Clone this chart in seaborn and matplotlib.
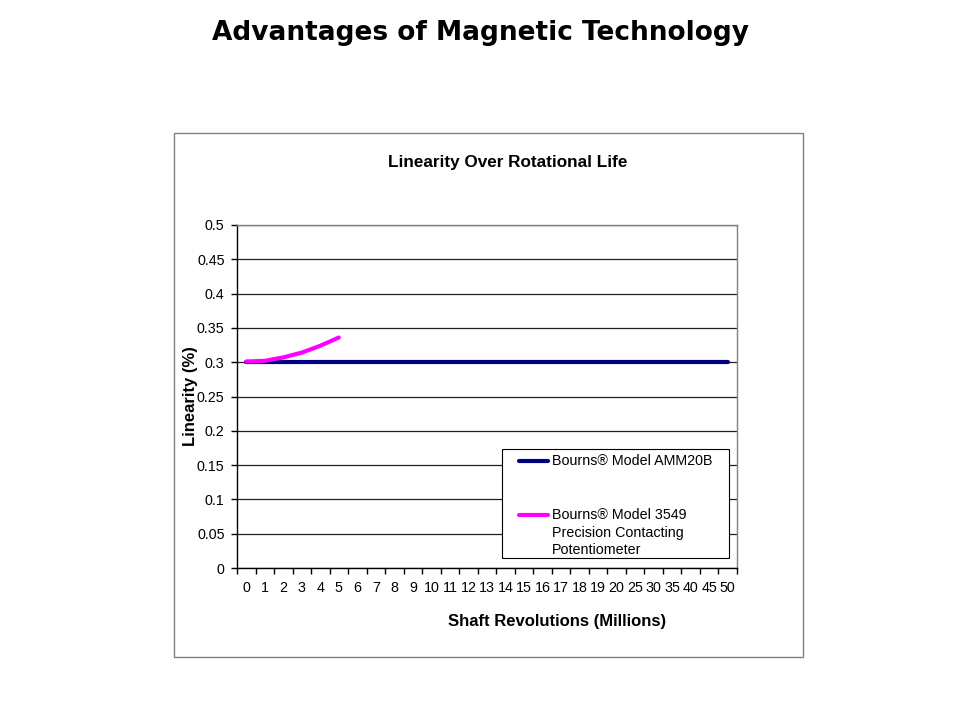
import numpy as np
import pandas as pd
import matplotlib
matplotlib.use("Agg")
import matplotlib.pyplot as plt
import seaborn as sns
from matplotlib.patches import Rectangle
from matplotlib.lines import Line2D

# Shaft revolution categories (millions)
revolutions = ["0", "1", "2", "3", "4", "5", "6", "7", "8", "9", "10", "11", "12",
               "13", "14", "15", "16", "17", "18", "19", "20", "25", "30", "35",
               "40", "45", "50"]
amm20b = [0.3] * len(revolutions)
model_3549 = [0.301, 0.302, 0.307, 0.314, 0.324, 0.336]

label_amm = "Bourns® Model AMM20B"
label_3549 = ["Bourns® Model 3549", "Precision Contacting", "Potentiometer"]
colors = {"AMM20B": "#000080", "3549": "#FF00FF"}

df = pd.concat([
    pd.DataFrame({"pos": np.arange(len(amm20b)), "Linearity": amm20b, "Series": "AMM20B"}),
    pd.DataFrame({"pos": np.arange(len(model_3549)), "Linearity": model_3549, "Series": "3549"}),
])

sns.set_style("white")
plt.rcParams['font.family'] = ['Liberation Sans', 'DejaVu Sans']
plt.rcParams['text.color'] = 'black'
plt.rcParams['axes.labelcolor'] = 'black'
plt.rcParams['xtick.color'] = 'black'
plt.rcParams['ytick.color'] = 'black'

fig = plt.figure(figsize=(9.6, 7.2), dpi=100)
fig.patch.set_facecolor("white")

# outer chart frame
fig.patches.append(Rectangle((0.18125, 0.0875), 0.6552, 0.7278, transform=fig.transFigure,
                             fill=False, edgecolor="#808080", linewidth=1))

fig.text(0.5, 0.954, "Advantages of Magnetic Technology", ha="center", va="center",
         fontsize=19, fontweight="bold", family="DejaVu Sans")
fig.text(0.529, 1 - 163 / 720, "Linearity Over Rotational Life", ha="center", va="center",
         fontsize=12.3, fontweight="bold")

ax = fig.add_axes([0.2469, 0.2111, 0.5208, 0.4764])
sns.lineplot(data=df, x="pos", y="Linearity", hue="Series", ax=ax,
             palette=colors, linewidth=3, sort=False, legend=False)

ax.set_xlim(-0.5, len(revolutions) - 0.5)
ax.set_ylim(0, 0.5)
ax.set_yticks(np.arange(0, 0.51, 0.05))
ax.set_yticklabels(["0", "0.05", "0.1", "0.15", "0.2", "0.25", "0.3", "0.35", "0.4", "0.45", "0.5"])
ax.set_xticks(np.arange(len(revolutions)))
ax.set_xticklabels(revolutions)
ax.set_xticks(np.arange(-0.5, len(revolutions)), minor=True)
ax.tick_params(axis="x", which="major", length=0, labelsize=10.3, pad=9)
ax.tick_params(axis="x", which="minor", length=4, width=1, color="black", bottom=True)
ax.tick_params(axis="y", which="major", length=4, width=1, color="black", left=True,
               labelsize=10.3, pad=5)

ax.yaxis.grid(True, color="#202020", linewidth=0.9)
ax.xaxis.grid(False)
ax.set_axisbelow(True)
for side in ["top", "right"]:
    ax.spines[side].set_color("#808080")
for side in ["left", "bottom"]:
    ax.spines[side].set_color("black")
for s in ax.spines.values():
    s.set_linewidth(1)

ax.set_xlabel("Shaft Revolutions (Millions)", fontsize=12, fontweight="bold")
ax.xaxis.set_label_coords(0.64, -0.157)
ax.xaxis.label.set_va("center")
ax.set_ylabel("Linearity (%)", fontsize=12, fontweight="bold")
ax.yaxis.set_label_coords(-0.094, 0.5)
ax.yaxis.label.set_va("center")

# legend box (Excel style, handle aligned with the first text line)
fig.patches.append(Rectangle((0.5229, 0.225), 0.2365, 0.1514, transform=fig.transFigure,
                             facecolor="white", edgecolor="black", linewidth=0.8, zorder=5))
entries = [(colors["AMM20B"], [label_amm], 461), (colors["3549"], label_3549, 515)]
for col, lines, ypix in entries:
    y = 1 - ypix / 720
    fig.lines.append(Line2D([519 / 960, 548 / 960], [y, y], transform=fig.transFigure,
                            color=col, linewidth=3, solid_capstyle="round", zorder=6))
    for i, txt in enumerate(lines):
        fig.text(552 / 960, 1 - (ypix + 17.5 * i) / 720, txt, ha="left", va="center",
                 fontsize=10.3, zorder=6)

plt.savefig("out.png", dpi=100)
